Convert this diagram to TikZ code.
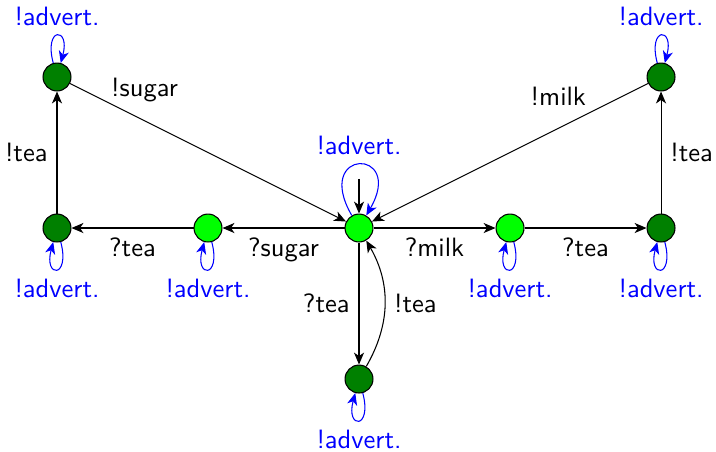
\documentclass[tikz,border=0pt]{standalone}
\usetikzlibrary{arrows.meta}
\renewcommand{\familydefault}{\sfdefault}
\begin{document}
\begin{tikzpicture}[
  >={Stealth[length=4.5pt,width=3.8pt,inset=1.3pt]},
  state/.style={circle, draw=black, minimum size=0.37cm, inner sep=0pt},
  lite/.style={state, fill=green},
  dark/.style={state, fill=green!50!black},
  adv/.style={->, blue, text=blue},
  every loop/.style={},
]
\useasboundingbox (-4.755,-2.955) rectangle (4.728,3.02);

% states
\node[lite] (c)  at (0,0)  {};
\node[lite] (l1) at (-2,0) {};
\node[dark] (l2) at (-4,0) {};
\node[dark] (tl) at (-4,2) {};
\node[lite] (r1) at (2,0)  {};
\node[dark] (r2) at (4,0)  {};
\node[dark] (tr) at (4,2)  {};
\node[dark] (b)  at (0,-2) {};

% initial arrow
\coordinate (c0) at (0,0.65);
\draw[->] (c0) -- (c);

% transitions
\draw[->] (c)  -- node[below] {?sugar} (l1);
\draw[->] (l1) -- node[below] {?tea} (l2);
\draw[->] (l2) -- node[left] {!tea} (tl);
\draw[->] (tl) -- node[pos=0.27, above=3.5pt] {!sugar} (c);
\draw[->] (c)  -- node[below] {?milk} (r1);
\draw[->] (r1) -- node[below] {?tea} (r2);
\draw[->] (r2) -- node[right] {!tea} (tr);
\draw[->] (tr) -- node[pos=0.325, above=5pt] {!milk} (c);
\draw[->] (c)  -- node[left] {?tea} (b);
\draw[->] (b) to[bend right=30] node[right] {!tea} (c);

% advertisement self-loops
\path (c)  edge[adv, out=120, in=60, distance=1.04cm] node[above] {!advert.} (c);
\path (tl) edge[adv, loop above] node[above] {!advert.} ();
\path (tr) edge[adv, loop above] node[above] {!advert.} ();
\path (l1) edge[adv, loop below] node[below] {!advert.} ();
\path (l2) edge[adv, loop below] node[below] {!advert.} ();
\path (r1) edge[adv, loop below] node[below] {!advert.} ();
\path (r2) edge[adv, loop below] node[below] {!advert.} ();
\path (b)  edge[adv, loop below] node[below] {!advert.} ();
\end{tikzpicture}
\end{document}
